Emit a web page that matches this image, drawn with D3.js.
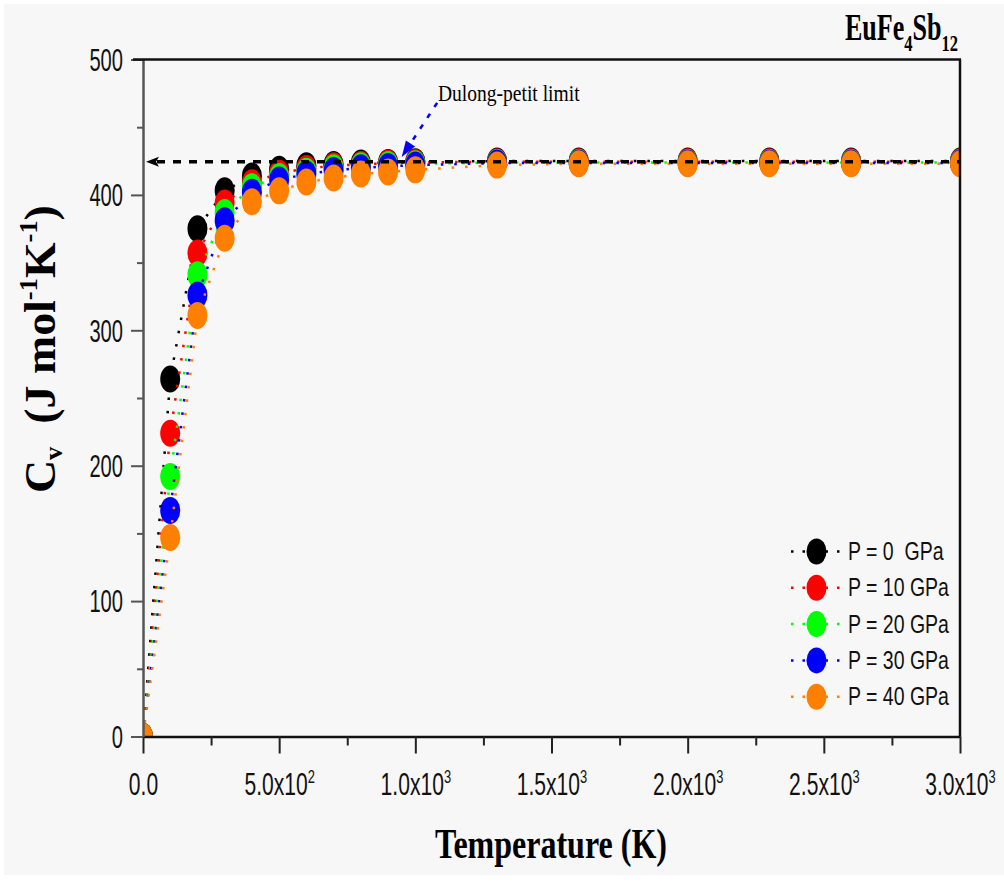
<!DOCTYPE html>
<html>
<head>
<meta charset="utf-8">
<script src="https://cdn.jsdelivr.net/npm/d3@7"></script>
<style>
  body { margin: 0; background: #fff; }
  svg { display: block; }
</style>
</head>
<body>
<script>
const width = 1004;
const height = 885;

// data
const temps = [0, 100, 200, 300, 400, 500, 600, 700, 800, 900, 1000, 1300, 1600, 2000, 2300, 2600, 3000];
const cvP0  = [0, 264, 375, 403, 414, 419, 421.5, 422.5, 423.5, 424, 424.5, 425, 425, 425, 425, 425, 425];
const cvP10 = [0, 224, 357, 394, 409, 416, 419.5, 421.5, 422.5, 423.5, 424, 424.5, 424.5, 424.5, 424.5, 424.5, 424.5];
const cvP20 = [0, 192, 341, 387, 406, 413.5, 417.5, 420, 421.5, 422.5, 423, 424, 424, 424, 424, 424, 424];
const cvP30 = [0, 167, 326, 381, 402, 411, 415.5, 418, 420, 421, 422, 423.5, 423.5, 423.5, 423.5, 423.5, 423.5];
const cvP40 = [0, 147, 311, 368, 395, 403, 409.5, 412.5, 415.5, 417, 418.5, 422, 423, 423, 423, 423, 423];

const seriesLabels = ['P = 0  GPa', 'P = 10 GPa', 'P = 20 GPa', 'P = 30 GPa', 'P = 40 GPa'];
const seriesColors = ['#000000', '#ff0000', '#00ff00', '#0000ff', '#ff7f00'];

const dulongPetit = 424.5;
const arrowFrom = [1080, 468];   // start of the blue annotation arrow (T, Cv)
const arrowTo = [950, 428];      // tip of the blue annotation arrow
const noteAt = [1083, 469];

const xTicks = [0, 500, 1000, 1500, 2000, 2500, 3000];
const xMinorTicks = [250, 750, 1250, 1750, 2250, 2750];
const xTickLabels = [['0.0', ''], ['5.0x10', '2'], ['1.0x10', '3'], ['1.5x10', '3'], ['2.0x10', '3'], ['2.5x10', '3'], ['3.0x10', '3']];
const yTicks = [0, 100, 200, 300, 400, 500];
const yMinorTicks = [50, 150, 250, 350, 450];

const sans = "'Liberation Sans', Arial, sans-serif";
const serif = "'Liberation Serif', 'Times New Roman', serif";

const svg = d3.select('body').append('svg')
  .attr('width', width)
  .attr('height', height);

svg.append('rect').attr('width', width).attr('height', height).attr('fill', '#ffffff');
svg.append('rect')
  .attr('x', 4).attr('y', 4)
  .attr('width', width - 4).attr('height', 871)
  .attr('fill', '#f7f7f7');

const x = d3.scaleLinear().domain([0, 3000]).range([143, 960]);
const y = d3.scaleLinear().domain([0, 500]).range([736.5, 59.5]);

svg.append('clipPath').attr('id', 'plotClip')
  .append('rect')
  .attr('x', x(0)).attr('y', y(500))
  .attr('width', x(3000) - x(0)).attr('height', y(0) - y(500));

const plot = svg.append('g').attr('clip-path', 'url(#plotClip)');

const series = [cvP0, cvP10, cvP20, cvP30, cvP40];
const line = d3.line()
  .x((d, i) => x(temps[i]))
  .y(d => y(d));

// each series: dotted line, then its symbols (later series on top)
series.forEach((vals, k) => {
  const g = plot.append('g');
  g.append('path')
    .datum(vals)
    .attr('d', line)
    .attr('fill', 'none')
    .attr('stroke', seriesColors[k])
    .attr('stroke-width', 2.5)
    .attr('stroke-dasharray', '2.5,11');
  g.selectAll('ellipse')
    .data(vals)
    .join('ellipse')
    .attr('cx', (d, i) => x(temps[i]))
    .attr('cy', d => y(d))
    .attr('rx', 10)
    .attr('ry', 13.5)
    .attr('fill', seriesColors[k]);
});

// Dulong-Petit dashed arrow
const dpY = y(dulongPetit);
svg.append('line')
  .attr('x1', x(0) + 14).attr('x2', x(3000))
  .attr('y1', dpY).attr('y2', dpY)
  .attr('stroke', '#000')
  .attr('stroke-width', 3.5)
  .attr('stroke-dasharray', '8,8');
svg.append('path')
  .attr('d', `M${x(0) + 3},${dpY} L${x(0) + 16},${dpY - 5} L${x(0) + 13},${dpY} L${x(0) + 16},${dpY + 5} Z`)
  .attr('fill', '#000');

// blue annotation arrow
const ax1 = x(arrowFrom[0]), ay1 = y(arrowFrom[1]);
const ax2 = x(arrowTo[0]), ay2 = y(arrowTo[1]);
const ang = Math.atan2(ay2 - ay1, ax2 - ax1);
const headLen = 16, headW = 5.5;
const bx = ax2 - headLen * Math.cos(ang), by = ay2 - headLen * Math.sin(ang);
svg.append('line')
  .attr('x1', ax1).attr('y1', ay1)
  .attr('x2', bx).attr('y2', by)
  .attr('stroke', '#0000ff')
  .attr('stroke-width', 2.5)
  .attr('stroke-dasharray', '5,8');
svg.append('path')
  .attr('d', `M${ax2},${ay2} L${bx + headW * Math.sin(ang)},${by - headW * Math.cos(ang)} L${bx - headW * Math.sin(ang)},${by + headW * Math.cos(ang)} Z`)
  .attr('fill', '#0000ff');

// squeeze a text group horizontally to a given width
function squeeze(g, tx, ty, w, rot) {
  const b = g.node().getBBox();
  const s = w / b.width;
  g.attr('transform', `translate(${tx},${ty})` + (rot ? ` rotate(${rot})` : '') + ` scale(${s},1) translate(${-b.x},0)`);
}

const note = svg.append('g');
note.append('text')
  .attr('font-family', serif)
  .attr('font-size', 24)
  .attr('fill', '#000')
  .text('Dulong-petit limit');
squeeze(note, x(noteAt[0]), y(noteAt[1]), 142);

// x axis
const xAxis = svg.append('g')
  .attr('transform', `translate(0,${y(0)})`)
  .call(d3.axisBottom(x).tickValues(xTicks).tickSize(17).tickSizeOuter(0).tickFormat(''));
xAxis.select('.domain').attr('stroke', '#111').attr('stroke-width', 2.5);
xAxis.selectAll('.tick line').attr('stroke', '#222').attr('stroke-width', 2);
xAxis.selectAll('.tick text').each(function(d, i) {
  const t = d3.select(this);
  t.text(null)
    .attr('y', 58.5)
    .attr('dy', null)
    .attr('fill', '#111')
    .attr('font-family', sans)
    .attr('font-size', 31)
    .attr('text-anchor', 'middle')
    .attr('transform', 'scale(0.68,1)');
  t.append('tspan').text(xTickLabels[i][0]);
  if (xTickLabels[i][1]) {
    t.append('tspan').attr('dy', -12).attr('font-size', 19).text(xTickLabels[i][1]);
  }
});
const xMinor = svg.append('g')
  .attr('transform', `translate(0,${y(0)})`)
  .call(d3.axisBottom(x).tickValues(xMinorTicks).tickSize(9).tickFormat(''));
xMinor.select('.domain').remove();
xMinor.selectAll('.tick line').attr('stroke', '#222').attr('stroke-width', 2);

// y axis
const yAxis = svg.append('g')
  .attr('transform', `translate(${x(0)},0)`)
  .call(d3.axisLeft(y).tickValues(yTicks).tickSize(12).tickPadding(8).tickSizeOuter(0));
yAxis.select('.domain').attr('stroke', '#555').attr('stroke-width', 2.5);
yAxis.selectAll('.tick line').attr('stroke', '#555').attr('stroke-width', 2);
yAxis.selectAll('.tick text')
  .attr('font-family', sans)
  .attr('font-size', 31)
  .attr('fill', '#111')
  .attr('x', -20 / 0.65)
  .attr('dy', '0.35em')
  .attr('transform', 'scale(0.65,1)');
const yMinor = svg.append('g')
  .attr('transform', `translate(${x(0)},0)`)
  .call(d3.axisLeft(y).tickValues(yMinorTicks).tickSize(6).tickFormat(''));
yMinor.select('.domain').remove();
yMinor.selectAll('.tick line').attr('stroke', '#555').attr('stroke-width', 2);

// top and right frame
svg.append('line')
  .attr('x1', x(0) - 10).attr('x2', x(3000) + 1)
  .attr('y1', y(500)).attr('y2', y(500))
  .attr('stroke', '#111').attr('stroke-width', 2.5);
svg.append('line')
  .attr('x1', x(3000)).attr('x2', x(3000))
  .attr('y1', y(500)).attr('y2', y(0))
  .attr('stroke', '#111').attr('stroke-width', 2.5);

// axis titles
const xTitle = svg.append('g');
xTitle.append('text')
  .attr('font-family', serif)
  .attr('font-weight', 'bold')
  .attr('font-size', 42)
  .attr('fill', '#000')
  .text('Temperature (K)');
squeeze(xTitle, 435, 858, 232);

const yTitle = svg.append('g');
const yt = yTitle.append('text')
  .attr('font-family', serif)
  .attr('font-weight', 'bold')
  .attr('font-size', 45)
  .attr('fill', '#000')
  .style('white-space', 'pre');
yt.append('tspan').text('C');
yt.append('tspan').attr('font-size', 26).attr('dy', 7).text('v');
yt.append('tspan').attr('dy', -7).text('  (J mol');
yt.append('tspan').attr('font-size', 26).attr('dy', -18).text('-1');
yt.append('tspan').attr('dy', 18).text('K');
yt.append('tspan').attr('font-size', 26).attr('dy', -18).text('-1');
yt.append('tspan').attr('dy', 18).text(')');
squeeze(yTitle, 55, 493, 288, -90);

// compound name
const title = svg.append('g');
const tt = title.append('text')
  .attr('font-family', serif)
  .attr('font-weight', 'bold')
  .attr('font-size', 38)
  .attr('fill', '#000');
tt.append('tspan').text('EuFe');
tt.append('tspan').attr('font-size', 24).attr('dy', 11).text('4');
tt.append('tspan').attr('dy', -11).text('Sb');
tt.append('tspan').attr('font-size', 24).attr('dy', 11).text('12');
squeeze(title, 845, 40, 113);

// legend
const legend = svg.append('g');
seriesLabels.forEach((lab, k) => {
  const cy = 551.5 + k * 36.3;
  legend.append('line')
    .attr('x1', 791).attr('x2', 842)
    .attr('y1', cy).attr('y2', cy)
    .attr('stroke', seriesColors[k])
    .attr('stroke-width', 2.5)
    .attr('stroke-dasharray', '2.5,9');
  legend.append('ellipse')
    .attr('cx', 816.5).attr('cy', cy)
    .attr('rx', 10).attr('ry', 13)
    .attr('fill', seriesColors[k]);
  const lg = legend.append('g');
  lg.append('text')
    .attr('font-family', sans)
    .attr('font-size', 25)
    .attr('fill', '#111')
    .style('white-space', 'pre')
    .text(lab);
  lg.attr('transform', `translate(848,${cy + 8.5}) scale(0.78,1)`);
});
</script>
</body>
</html>
